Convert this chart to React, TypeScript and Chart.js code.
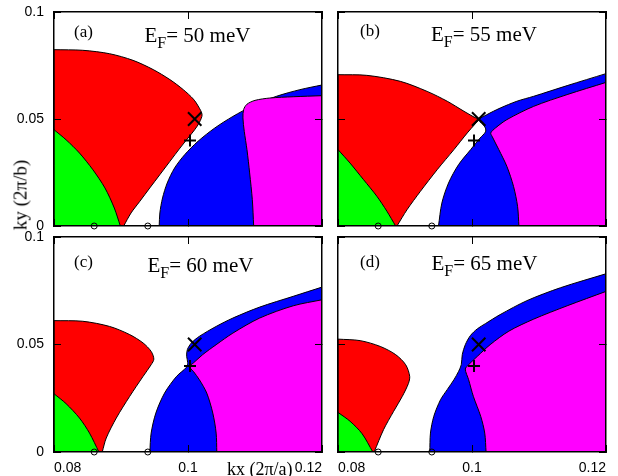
import React, { useEffect, useRef } from 'react';
import { Chart, registerables } from 'chart.js';

Chart.register(...registerables);

type Pt = [number, number];

// ---------- axes ----------
const X_RANGE: Pt = [0.08, 0.12];
const Y_RANGE: Pt = [0, 0.1];
const X_TICKS = [0.08, 0.1, 0.12];
const X_TICK_LABELS = ['0.08', '0.1', '0.12'];
const Y_TICKS = [0, 0.05, 0.1];
const Y_TICK_LABELS = ['0', '0.05', '0.1'];
const X_TITLE = 'kx (2π/a)';
const Y_TITLE = 'ky (2π/b)';

// ---------- panels ----------
const PANEL_TAGS = ['(a)', '(b)', '(c)', '(d)'];
const FERMI_ENERGIES = [50, 55, 60, 65];

// ---------- markers ----------
const CROSS_MARK: Pt = [0.101, 0.05];
const PLUS_MARK: Pt = [0.1003, 0.04];
const CIRCLE_MARKS: Pt[] = [[0.086, 0], [0.094, 0]];

// ---------- Fermi surface pockets (kx, ky) ----------
const RED_A: Pt[] = [[0.08, 0], [0.08, 0.0824], [0.0843, 0.0821], [0.0883, 0.0805], [0.0918, 0.0774], [0.0948, 0.0731], [0.0973, 0.0684], [0.0993, 0.0637], [0.1008, 0.0593], [0.1016, 0.0556], [0.1021, 0.052], [0.1017, 0.0484], [0.101, 0.045], [0.1, 0.0411], [0.0988, 0.0364], [0.0973, 0.0302], [0.0958, 0.024], [0.0943, 0.0178], [0.0928, 0.0115], [0.0915, 0.0061], [0.0904, 0]];
const GREEN_A: Pt[] = [[0.08, 0], [0.08, 0.045], [0.0818, 0.0403], [0.0838, 0.0341], [0.0858, 0.0263], [0.0876, 0.0178], [0.089, 0.0084], [0.0899, 0]];
const BLUE_A: Pt[] = [[0.0957, 0], [0.0958, 0.0061], [0.0962, 0.0131], [0.0969, 0.0201], [0.098, 0.0271], [0.0995, 0.0333], [0.1015, 0.0396], [0.104, 0.0458], [0.1067, 0.0512], [0.1097, 0.0562], [0.1132, 0.0606], [0.1167, 0.0637], [0.12, 0.0659], [0.12, 0]];
const MAGENTA_A: Pt[] = [[0.1098, 0], [0.1096, 0.0123], [0.1092, 0.0248], [0.1088, 0.0357], [0.1084, 0.0442], [0.1082, 0.0505], [0.1083, 0.0544], [0.1088, 0.0569], [0.11, 0.0587], [0.1122, 0.0598], [0.1157, 0.0604], [0.12, 0.0609], [0.12, 0]];

const RED_B: Pt[] = [[0.08, 0], [0.08, 0.0707], [0.0843, 0.0704], [0.0893, 0.0676], [0.0933, 0.0629], [0.0963, 0.0583], [0.0988, 0.0536], [0.1003, 0.0509], [0.101, 0.0497], [0.1005, 0.0478], [0.0993, 0.0435], [0.0973, 0.0357], [0.0948, 0.0263], [0.0923, 0.0162], [0.0903, 0.0076], [0.0888, 0]];
const GREEN_B: Pt[] = [[0.08, 0], [0.08, 0.0357], [0.0818, 0.0294], [0.0838, 0.0217], [0.0858, 0.0139], [0.0873, 0.0069], [0.0886, 0]];
const BLUE_B: Pt[] = [[0.095, 0], [0.0955, 0.0107], [0.0965, 0.0201], [0.098, 0.0287], [0.0998, 0.0357], [0.1012, 0.0411], [0.102, 0.0439], [0.102, 0.0458], [0.1015, 0.0478], [0.101, 0.0497], [0.1022, 0.052], [0.1042, 0.0551], [0.1067, 0.0583], [0.1092, 0.0606], [0.1142, 0.0656], [0.12, 0.0712], [0.12, 0]];
const MAGENTA_B: Pt[] = [[0.107, 0], [0.1068, 0.0092], [0.1062, 0.0185], [0.1052, 0.0279], [0.104, 0.0357], [0.103, 0.0419], [0.1028, 0.0435], [0.1035, 0.0458], [0.1052, 0.0497], [0.1092, 0.0559], [0.1142, 0.0614], [0.12, 0.0671], [0.12, 0]];

const RED_C: Pt[] = [[0.08, 0], [0.08, 0.0611], [0.0843, 0.0608], [0.0883, 0.0584], [0.0913, 0.0546], [0.0933, 0.0507], [0.0945, 0.0468], [0.0949, 0.0432], [0.0945, 0.0406], [0.0933, 0.0352], [0.0913, 0.0259], [0.0893, 0.0158], [0.0878, 0.0065], [0.0872, 0]];
const GREEN_C: Pt[] = [[0.08, 0], [0.08, 0.0271], [0.0818, 0.0225], [0.0838, 0.0158], [0.0853, 0.0088], [0.0867, 0]];
const BLUE_C: Pt[] = [[0.0943, 0], [0.0945, 0.0088], [0.0952, 0.0181], [0.0965, 0.0274], [0.0983, 0.0352], [0.0998, 0.0395], [0.09995, 0.0417], [0.0998, 0.0445], [0.0999, 0.0476], [0.1005, 0.0507], [0.1017, 0.0538], [0.1042, 0.0584], [0.1067, 0.0623], [0.1107, 0.0674], [0.1157, 0.0724], [0.12, 0.0767], [0.12, 0]];
const MAGENTA_C: Pt[] = [[0.1043, 0], [0.1042, 0.0088], [0.1037, 0.0181], [0.1028, 0.0274], [0.1017, 0.0336], [0.1008, 0.0375], [0.1002, 0.0398], [0.1008, 0.0414], [0.1022, 0.0453], [0.1042, 0.0499], [0.1067, 0.0553], [0.1107, 0.0623], [0.1157, 0.068], [0.12, 0.0708], [0.12, 0]];

const RED_D: Pt[] = [[0.08, 0], [0.08, 0.0525], [0.0833, 0.0518], [0.0863, 0.0491], [0.0886, 0.0453], [0.0901, 0.0406], [0.0907, 0.0352], [0.0905, 0.0318], [0.0896, 0.0259], [0.0883, 0.0189], [0.0868, 0.0104], [0.0854, 0]];
const GREEN_D: Pt[] = [[0.08, 0], [0.08, 0.0184], [0.0818, 0.0143], [0.0836, 0.0085], [0.0852, 0]];
const BLUE_D: Pt[] = [[0.0937, 0], [0.0938, 0.0088], [0.0943, 0.0166], [0.0953, 0.0243], [0.0963, 0.029], [0.0973, 0.0336], [0.098, 0.0375], [0.0984, 0.0406], [0.09855, 0.0453], [0.099, 0.0499], [0.09975, 0.0541], [0.1008, 0.0573], [0.102, 0.0597], [0.1042, 0.0639], [0.1082, 0.0704], [0.1132, 0.0764], [0.12, 0.0829], [0.12, 0]];
const MAGENTA_D: Pt[] = [[0.1021, 0], [0.1019, 0.0088], [0.1013, 0.0166], [0.1002, 0.0259], [0.0995, 0.0336], [0.099, 0.0386], [0.0995, 0.0406], [0.1008, 0.0445], [0.1027, 0.0499], [0.1055, 0.0562], [0.1092, 0.0618], [0.1142, 0.068], [0.12, 0.0747], [0.12, 0]];

const RED = [RED_A, RED_B, RED_C, RED_D];
const GREEN = [GREEN_A, GREEN_B, GREEN_C, GREEN_D];
const BLUE = [BLUE_A, BLUE_B, BLUE_C, BLUE_D];
const MAGENTA = [MAGENTA_A, MAGENTA_B, MAGENTA_C, MAGENTA_D];

// ---------- styling / layout ----------
const COLORS = { red: 'rgb(255,0,0)', green: 'rgb(0,255,0)', blue: 'rgb(0,0,255)', magenta: 'rgb(255,0,255)' };
const SERIF = '"Liberation Serif", "Times New Roman", serif';
const SANS = 'Liberation Sans';
const Y_AXIS_W = 54;
const PAD_R = 16;
const LAYOUT = [
  { L: 54, T: 12, R: 322, B: 226, padTop: 12, xH: 0, padBottom: 14, showX: false, showY: true },
  { L: 338, T: 12, R: 606, B: 226, padTop: 12, xH: 0, padBottom: 14, showX: false, showY: false },
  { L: 54, T: 237, R: 322, B: 452, padTop: 14, xH: 24, padBottom: 0, showX: true, showY: true },
  { L: 338, T: 237, R: 606, B: 452, padTop: 14, xH: 24, padBottom: 0, showX: true, showY: false },
];
const TEXT_POS = [
  { tagLeft: 74, tagBase: 37, eLeft: 144.5, eBase: 42.5 },
  { tagLeft: 360, tagBase: 36.5, eLeft: 431, eBase: 42 },
  { tagLeft: 74, tagBase: 267.5, eLeft: 147.5, eBase: 272.5 },
  { tagLeft: 360, tagBase: 267, eLeft: 431.5, eBase: 271 },
];

function isEdge([x, y]: Pt) {
  return x <= X_RANGE[0] || x >= X_RANGE[1] || y <= Y_RANGE[0];
}

// duplicate points lying on the frame so the spline keeps sharp corners there
function shapePoints(arr: Pt[]) {
  const out: { x: number; y: number }[] = [];
  arr.forEach((p, i) => {
    out.push({ x: p[0], y: p[1] });
    if (isEdge(p) && i > 0 && i < arr.length - 1) out.push({ x: p[0], y: p[1] });
  });
  return out;
}

function region(arr: Pt[], color: string, order: number) {
  return {
    data: shapePoints(arr),
    showLine: true,
    fill: 'shape',
    backgroundColor: color,
    borderColor: '#000',
    borderWidth: 1,
    pointRadius: 0,
    pointHoverRadius: 0,
    tension: 0.3,
    order,
  };
}

function marker(pts: Pt[], style: string, radius: number, width: number) {
  return {
    data: pts.map(([x, y]) => ({ x, y })),
    showLine: false,
    pointStyle: style,
    pointRadius: radius,
    pointHoverRadius: radius,
    pointBorderWidth: width,
    pointBorderColor: '#000',
    pointBackgroundColor: 'rgba(0,0,0,0)',
    clip: false,
    order: 0,
  };
}

const zeroPad = (s: any) => {
  s.paddingLeft = 0;
  s.paddingRight = 0;
  s.paddingTop = 0;
  s.paddingBottom = 0;
};

function makeAxis(axis: 'x' | 'y', position: string, showLabels: boolean, size: number) {
  const isX = axis === 'x';
  const tickValues = isX ? X_TICKS : Y_TICKS;
  const labels = isX ? X_TICK_LABELS : Y_TICK_LABELS;
  const range = isX ? X_RANGE : Y_RANGE;
  return {
    type: 'linear',
    axis,
    position,
    min: range[0],
    max: range[1],
    afterBuildTicks: (s: any) => {
      s.ticks = tickValues.map((v) => ({ value: v }));
    },
    afterFit: (s: any) => {
      if (isX) s.height = size;
      else s.width = size;
      zeroPad(s);
    },
    grid: { display: true, drawOnChartArea: false, drawTicks: true, tickLength: -7, tickColor: '#000', tickWidth: 1, z: 1 },
    border: { display: true, color: '#000', width: 1.5, z: 1 },
    ticks: {
      display: showLabels,
      padding: isX ? 15 : 17,
      align: isX ? 'inner' : 'center',
      maxRotation: 0,
      minRotation: 0,
      autoSkip: false,
      color: '#000',
      font: { family: SANS, size: 14 },
      callback: (_v: any, idx: number) => labels[idx],
    },
  };
}

function Panel({ i }: { i: number }) {
  const ref = useRef<HTMLCanvasElement | null>(null);
  const g = LAYOUT[i];
  const w = Y_AXIS_W + (g.R - g.L) + PAD_R;
  const h = g.padTop + (g.B - g.T) + g.xH + g.padBottom;
  const left = g.L - Y_AXIS_W;
  const top = g.T - g.padTop;

  useEffect(() => {
    if (!ref.current) return;
    const chart = new Chart(ref.current, {
      type: 'scatter',
      data: {
        datasets: [
          marker([CROSS_MARK], 'crossRot', 9.5, 2),
          marker([PLUS_MARK], 'cross', 6, 2),
          marker(CIRCLE_MARKS, 'circle', 3, 1),
          region(GREEN[i], COLORS.green, 1),
          region(MAGENTA[i], COLORS.magenta, 1),
          region(RED[i], COLORS.red, 2),
          region(BLUE[i], COLORS.blue, 2),
        ] as any,
      },
      options: {
        responsive: false,
        animation: false,
        devicePixelRatio: 1,
        events: [],
        layout: { padding: { left: 0, top: g.padTop, right: PAD_R, bottom: g.padBottom } },
        plugins: { legend: { display: false }, tooltip: { enabled: false }, title: { display: false } },
        scales: {
          x: makeAxis('x', 'bottom', g.showX, g.xH),
          y: makeAxis('y', 'left', g.showY, Y_AXIS_W),
          x2: makeAxis('x', 'top', false, 0),
          y2: makeAxis('y', 'right', false, 0),
        } as any,
      } as any,
    });
    return () => chart.destroy();
  }, [i]);

  return (
    <canvas
      ref={ref}
      width={w}
      height={h}
      style={{ position: 'absolute', left, top, width: w, height: h, display: 'block' }}
    />
  );
}

function serifTop(base: number, size: number) {
  return base - 0.8375 * size;
}

export default function App() {
  return (
    <div
      style={{
        position: 'absolute',
        left: 0,
        top: 0,
        width: 618,
        height: 476,
        overflow: 'hidden',
        background: '#fff',
      }}
    >
      {[0, 1, 2, 3].map((i) => (
        <Panel key={i} i={i} />
      ))}
      {TEXT_POS.map((p, i) => (
        <React.Fragment key={'t' + i}>
          <span
            style={{
              position: 'absolute',
              left: p.tagLeft,
              top: serifTop(p.tagBase, 17),
              fontFamily: SERIF,
              fontSize: 17,
              lineHeight: '17px',
              whiteSpace: 'nowrap',
              color: '#000',
            }}
          >
            {PANEL_TAGS[i]}
          </span>
          <span
            style={{
              position: 'absolute',
              left: p.eLeft,
              top: serifTop(p.eBase, 21),
              fontFamily: SERIF,
              fontSize: 21,
              lineHeight: '21px',
              whiteSpace: 'nowrap',
              color: '#000',
            }}
          >
            E<span style={{ fontSize: 16, verticalAlign: -6 }}>F</span>= {FERMI_ENERGIES[i]} meV
          </span>
        </React.Fragment>
      ))}
      <span
        style={{
          position: 'absolute',
          left: 227,
          top: serifTop(475, 18),
          fontFamily: SERIF,
          fontSize: 18,
          lineHeight: '18px',
          whiteSpace: 'nowrap',
          color: '#000',
        }}
      >
        {X_TITLE}
      </span>
      <div
        style={{
          position: 'absolute',
          left: 20,
          top: 195,
          transform: 'translate(-50%, -50%) rotate(-90deg)',
          fontFamily: SERIF,
          fontSize: 19,
          lineHeight: '19px',
          whiteSpace: 'nowrap',
          color: '#000',
        }}
      >
        {Y_TITLE}
      </div>
    </div>
  );
}
